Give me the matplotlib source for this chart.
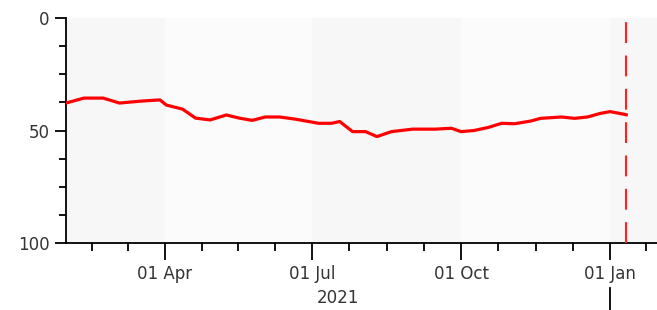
import matplotlib
matplotlib.use('Agg')
import matplotlib.pyplot as plt
import matplotlib.dates as mdates
import matplotlib.transforms as mtransforms
import pandas as pd
from matplotlib.ticker import FixedLocator

# values (date, level)
dates = ['2021-01-30', '2021-02-10', '2021-02-22', '2021-03-04', '2021-03-18', '2021-03-29',
         '2021-04-02', '2021-04-12', '2021-04-20', '2021-04-29', '2021-05-09', '2021-05-17',
         '2021-05-25', '2021-06-02', '2021-06-11', '2021-06-21', '2021-07-05', '2021-07-13',
         '2021-07-18', '2021-07-26', '2021-08-03', '2021-08-10', '2021-08-19', '2021-09-01',
         '2021-09-15', '2021-09-25', '2021-10-01', '2021-10-09', '2021-10-18', '2021-10-26',
         '2021-11-03', '2021-11-13', '2021-11-19', '2021-12-02', '2021-12-10', '2021-12-18',
         '2021-12-26', '2022-01-01', '2022-01-09', '2022-01-11']
values = [37.8, 35.6, 35.6, 37.8, 36.9, 36.4,
          38.7, 40.5, 44.5, 45.3, 43.1, 44.5,
          45.5, 44.0, 44.0, 45.0, 46.8, 46.8,
          46.0, 50.5, 50.5, 52.7, 50.5, 49.4,
          49.4, 49.0, 50.5, 50.0, 48.6, 46.8,
          47.0, 45.8, 44.6, 44.0, 44.6, 44.0,
          42.4, 41.6, 42.7, 43.0]
marker_date = '2022-01-11'
major_ticks = ['2021-04-01', '2021-07-01', '2021-10-01', '2022-01-01']
major_labels = ['01 Apr', '01 Jul', '01 Oct', '01 Jan']
quarters = ['2021-01-01', '2021-04-01', '2021-07-01', '2021-10-01', '2022-01-01', '2022-04-01']
year_label = '2021'

series = pd.Series(values, index=pd.to_datetime(dates))
x_start = pd.Timestamp('2021-01-30')
x_end = pd.Timestamp('2022-01-30')

fig = plt.figure(figsize=[6.57, 3.10], dpi=100)
ax = fig.add_axes([66 / 657, 1 - 243 / 310, 1 - 66 / 657, 225 / 310])
ax.set_facecolor('#fbfbfb')

# alternating quarter bands
q = pd.to_datetime(quarters)
for i in range(0, len(q) - 1, 2):
    ax.axvspan(q[i], q[i + 1], color='#f7f7f7', lw=0, zorder=0)

ax.plot(series.index, series.values, color='#ff0000', linewidth=2.3, zorder=3)
ax.axvline(pd.Timestamp(marker_date), color='#ff2020', linewidth=1.5, dashes=(10, 6), zorder=4)

ax.set_xlim(x_start, x_end)
ax.set_ylim(100, 0)

for side in ['top', 'right']:
    ax.spines[side].set_visible(False)
for side in ['left', 'bottom']:
    ax.spines[side].set_linewidth(1.3)

# y ticks
ax.set_yticks([0, 50, 100])
ax.yaxis.set_minor_locator(FixedLocator([12.5, 25, 37.5, 62.5, 75, 87.5]))
ax.tick_params(axis='y', which='major', length=8, width=1.3, labelsize=12, labelcolor='#333333', pad=4)
ax.tick_params(axis='y', which='minor', length=5, width=1.3)

# x ticks: quarters major, each quarter split in four for the minor ticks
mt = pd.to_datetime(major_ticks)
ax.set_xticks(mt)
ax.set_xticklabels(major_labels)
qnum = mdates.date2num(q)
minor = []
for a, b in zip(qnum[:-1], qnum[1:]):
    for k in (1, 2, 3):
        minor.append(a + (b - a) * k / 4)
ax.xaxis.set_minor_locator(FixedLocator(minor))
ax.tick_params(axis='x', which='major', length=12, width=1.3, labelsize=12, labelcolor='#333333', pad=4)
ax.tick_params(axis='x', which='minor', length=6, width=1.3)

# year label under the visible part of 2021 and a separator at the year change
trans = mtransforms.blended_transform_factory(ax.transData, ax.transAxes)
jan22 = pd.Timestamp('2022-01-01')
mid = mdates.num2date((mdates.date2num(x_start) + mdates.date2num(jan22)) / 2)
ax.text(mid, -0.245, year_label, transform=trans, ha='center', va='center', fontsize=12, color='#333333')
ax.plot([jan22, jan22], [-0.2, -0.31], transform=trans, color='black', linewidth=1.3, clip_on=False)

plt.savefig('out.png', dpi=100)
